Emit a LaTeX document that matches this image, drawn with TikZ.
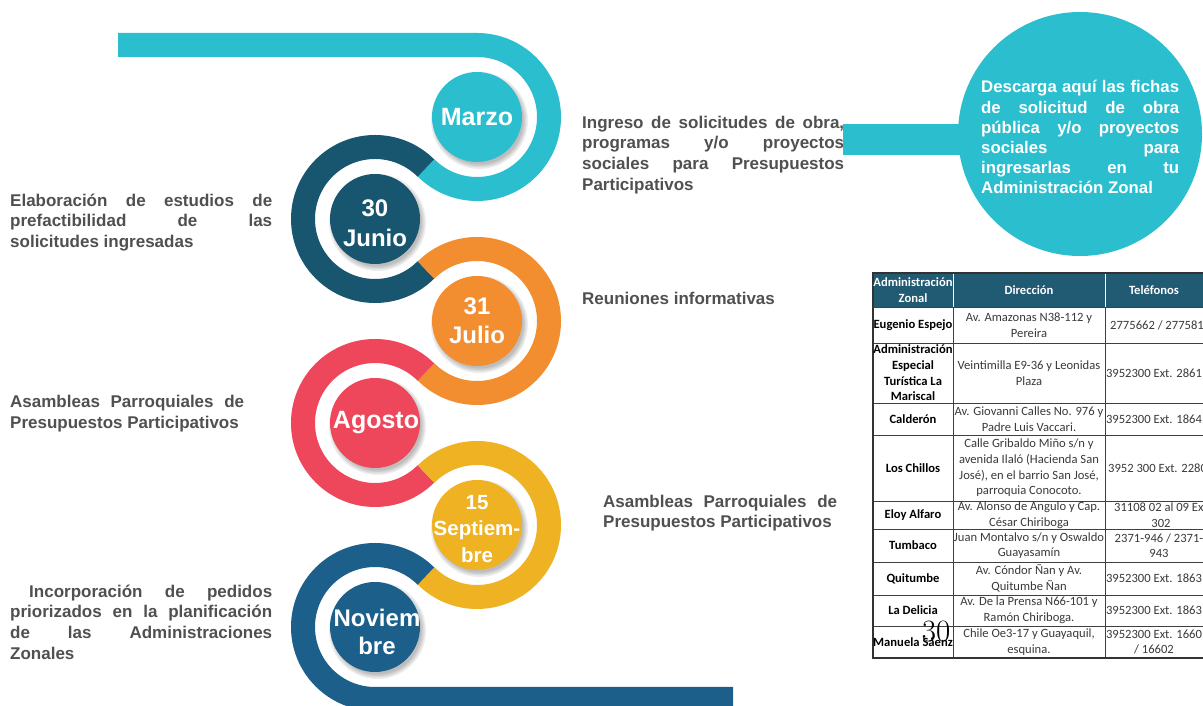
\documentclass[tikz,border=0pt]{standalone}
\usepackage{fontspec}
\newfontfamily\hel{Liberation Sans}
\newfontfamily\calib{Carlito}
\usetikzlibrary{calc}
\setlength{\parindent}{0pt}
\hyphenpenalty=10000
\exhyphenpenalty=10000
\tolerance=9999
\definecolor{cteal}{HTML}{2ABECF}
\definecolor{cjun}{HTML}{18556E}
\definecolor{corange}{HTML}{F28E30}
\definecolor{cred}{HTML}{EE465A}
\definecolor{cyellow}{HTML}{EEB222}
\definecolor{cnov}{HTML}{1B5F8A}
\definecolor{chead}{HTML}{205A73}
\definecolor{txtgray}{HTML}{505050}
\definecolor{cellgray}{HTML}{3A3A3A}
\begin{document}
\begin{tikzpicture}[x=1pt,y=1pt,
  band/.style={line width=24pt},
  disk/.style={circle, minimum size=90pt, inner sep=0pt},
  softshadow/.style={fill=black, opacity=0.07},
  disktext/.style={text=white, font=\hel\bfseries\fontsize{24}{30}\selectfont, align=center, inner sep=0pt},
  desc/.style={text=txtgray, font=\hel\bfseries\fontsize{17}{20.8}\selectfont, align=justify, inner sep=0pt, anchor=north west},
  descplain/.style={text=txtgray, font=\hel\bfseries\fontsize{17}{20.8}\selectfont, inner sep=0pt, anchor=north west},
  cell/.style={font=\calib\fontsize{12.6}{15.6}\selectfont, align=center, inner sep=0pt, text=cellgray},
  bcell/.style={font=\calib\bfseries\fontsize{12.6}{15.6}\selectfont, align=center, inner sep=0pt, text=black},
  hcell/.style={font=\calib\bfseries\fontsize{12.6}{15.6}\selectfont, align=center, inner sep=0pt, text=white},
  grid/.style={draw=black!75, line width=0.8pt}
]
\path[use as bounding box, clip] (0,0) rectangle (1203,706);
\fill[white] (0,0) rectangle (1203,706);

% centres of the rings
\coordinate (cM) at (477,589);
\coordinate (cJ) at (375,487);
\coordinate (cL) at (477,385);
\coordinate (cA) at (375,283);
\coordinate (cS) at (477,181);
\coordinate (cN) at (375,79);
\coordinate (tb) at (118,661);
\coordinate (be) at (733,7);

% bands
\draw[band, cteal] (tb) -- ($(cM)+(90:72)$) arc[start angle=90, end angle=-135, radius=72];
\draw[band, cjun] ($(cJ)+(45:72)$) arc[start angle=45, end angle=315, radius=72];
\draw[band, corange] ($(cL)+(135:72)$) arc[start angle=135, end angle=-135, radius=72];
\draw[band, cred] ($(cA)+(45:72)$) arc[start angle=45, end angle=315, radius=72];
\draw[band, cyellow] ($(cS)+(135:72)$) arc[start angle=135, end angle=-135, radius=72];
\draw[band, cnov] ($(cN)+(45:72)$) arc[start angle=45, end angle=270, radius=72] -- (be);

% soft shadows
\foreach \c in {cM,cJ,cL,cA,cS,cN}{
  \foreach \r in {44,45.5,47,48.5}
    \fill[softshadow] ($(\c)+(2.5,-3.5)$) circle[radius=\r];
}

% disks
\node[disk, fill=cteal] (dM) at (cM) {};
\node[disk, fill=cjun] (dJ) at (cJ) {};
\node[disk, fill=corange] (dL) at (cL) {};
\node[disk, fill=cred] (dA) at (cA) {};
\node[disk, fill=cyellow] (dS) at (cS) {};
\node[disk, fill=cnov] (dN) at (cN) {};

\begin{scope}\clip (cM) circle[radius=45];
\node[disktext, font=\hel\bfseries\fontsize{25}{30}\selectfont] (tM) at (cM) {Marzo};
\end{scope}
\begin{scope}\clip (cJ) circle[radius=45];
\node[disktext] (tJ) at ($(cJ)+(0,-4)$) {30\\Junio};
\end{scope}
\begin{scope}\clip (cL) circle[radius=45];
\node[disktext, font=\hel\bfseries\fontsize{24}{29}\selectfont] (tL) at (cL) {31\\Julio};
\end{scope}
\begin{scope}\clip (cA) circle[radius=45];
\node[disktext, font=\hel\bfseries\fontsize{25}{30}\selectfont] (tA) at ($(cA)+(1,0)$) {Agosto};
\end{scope}
\begin{scope}\clip (cS) circle[radius=45];
\node[disktext, font=\hel\bfseries\fontsize{20.5}{26.5}\selectfont] (tS) at ($(cS)+(0,-4)$) {15\\Septiem-\\bre};
\end{scope}
\begin{scope}\clip (cN) circle[radius=45];
\node[disktext, font=\hel\bfseries\fontsize{24}{28}\selectfont] (tN) at ($(cN)+(2,-5)$) {Noviem\\bre};
\end{scope}

% descriptions
\node[desc, text width=262] (t1) at (582,590.5) {Ingreso de solicitudes de obra,\linebreak programas y/o proyectos\linebreak sociales para Presupuestos\linebreak Participativos};
\node[desc, text width=262] (t2) at (10,512.5) {Elaboración de estudios de\linebreak prefactibilidad de las\linebreak solicitudes ingresadas};
\node[descplain] (t3) at (582,414.5) {Reuniones informativas};
\node[desc, text width=234] (t4) at (10,311) {Asambleas Parroquiales de\linebreak Presupuestos Participativos};
\node[desc, text width=234] (t5) at (603,211.5) {Asambleas Parroquiales de\linebreak Presupuestos Participativos};
\node[desc, text width=262] (t6) at (10,121.5) {\hspace*{19pt}Incorporación de pedidos\linebreak priorizados en la planificación\linebreak de las Administraciones\linebreak Zonales};

% big circle and its connector
\node[circle, fill=cteal, minimum size=244pt, inner sep=0pt] (big) at (1080,572) {};
\coordinate (barstart) at (843,566.5);
\draw[line width=31pt, cteal] (barstart) -- (barstart -| big.center);
\node[desc, text=white, font=\hel\bfseries\fontsize{16.8}{20.1}\selectfont, text width=198] (tbig) at (981,625.6) {Descarga aquí las fichas\linebreak de solicitud de obra\linebreak pública y/o proyectos\linebreak sociales para\linebreak ingresarlas en tu\linebreak Administración Zonal};

% table
\fill[chead] (873,399) rectangle (1210,433);
\foreach \yy in {363,303,271,205,177,144,111,80}
  \draw[grid] (873,\yy) -- (1210,\yy);
\draw[grid] (953,48) -- (953,399);
\draw[grid] (1105,48) -- (1105,399);
\draw[white, line width=0.8pt] (953,399) -- (953,433);
\draw[white, line width=0.8pt] (1105,399) -- (1105,433);
\draw[draw=black!80, line width=1.3pt] (873,48) rectangle (1210,433);
\draw[grid] (873,399) -- (1210,399);

\node[hcell] (h1) at (913,416) {Administración\\Zonal};
\node[hcell] (h2) at (1029,416) {Dirección};
\node[hcell] (h3) at (1154,416) {Teléfonos};

\node[bcell] (r1a) at (913,381) {Eugenio Espejo};
\node[cell] (r1b) at (1029,381) {Av. Amazonas N38-112 y\\Pereira};
\node[cell, anchor=west] (r1c) at (1110,381) {2775662 / 277581};

\node[bcell] (r2a) at (913,333) {Administración\\Especial\\Turística La\\Mariscal};
\node[cell] (r2b) at (1029,333) {Veintimilla E9-36 y Leonidas\\Plaza};
\node[cell] (r2c) at (1154,333) {3952300 Ext. 2861};

\node[bcell] (r3a) at (913,287) {Calderón};
\node[cell] (r3b) at (1029,287) {Av. Giovanni Calles No. 976 y\\Padre Luis Vaccari.};
\node[cell] (r3c) at (1154,287) {3952300 Ext. 1864};

\node[bcell] (r4a) at (913,238) {Los Chillos};
\node[cell] (r4b) at (1029,238) {Calle Gribaldo Miño s/n y\\avenida Ilaló (Hacienda San\\José), en el barrio San José,\\parroquia Conocoto.};
\node[cell, anchor=west] (r4c) at (1108,238) {3952 300 Ext. 2280};

\node[bcell] (r5a) at (913,191) {Eloy Alfaro};
\node[cell] (r5b) at (1029,191) {Av. Alonso de Angulo y Cap.\\César Chiriboga};
\node[cell] (r5c) at (1161,191) {31108 02 al 09 Ext\\302};

\node[bcell] (r6a) at (913,160.5) {Tumbaco};
\node[cell] (r6b) at (1029,160.5) {Juan Montalvo s/n y Oswaldo\\Guayasamín};
\node[cell] (r6c) at (1159,160.5) {2371-946 / 2371-\\943};

\node[bcell] (r7a) at (913,127.5) {Quitumbe};
\node[cell] (r7b) at (1029,127.5) {Av. Cóndor Ñan y Av.\\Quitumbe Ñan};
\node[cell] (r7c) at (1154,127.5) {3952300 Ext. 1863};

\node[bcell] (r8a) at (913,95.5) {La Delicia};
\node[cell] (r8b) at (1029,95.5) {Av. De la Prensa N66-101 y\\Ramón Chiriboga.};
\node[cell] (r8c) at (1154,95.5) {3952300 Ext. 1863};

\node[bcell] (r9a) at (913,64) {Manuela Sáenz};
\node[cell] (r9b) at (1029,64) {Chile Oe3-17 y Guayaquil,\\esquina.};
\node[cell] (r9c) at (1154,64) {3952300 Ext. 1660\\/ 16602};

% page number
\node[inner sep=0pt, anchor=base, font=\fontsize{31}{31}\selectfont] (pg) at (936,64) {30};
\end{tikzpicture}
\end{document}
